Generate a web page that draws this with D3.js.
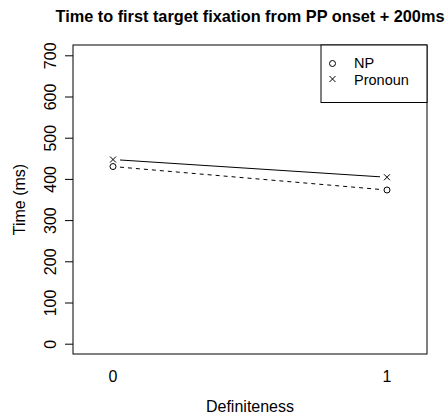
<!DOCTYPE html>
<html><head><meta charset="utf-8">
<script src="https://cdn.jsdelivr.net/npm/d3@7"></script>
<style>body{margin:0;background:#fff}svg{display:block}text{font-family:"Liberation Sans",Arial,sans-serif;fill:#000}</style>
</head><body><svg id="c" width="448" height="418"></svg>
<script>
const categories = ["0", "1"];
const seriesNames = ["NP", "Pronoun"];
const npValues = [430, 373];
const pronounValues = [447, 404];
const yTicks = [0, 100, 200, 300, 400, 500, 600, 700];
const title = "Time to first target fixation from PP onset + 200ms";

const svg = d3.select("#c");
const L = 73, R = 427, T = 45, B = 354;
const FS = 16;
const x = d3.scaleLinear().domain([-0.146, 1.146]).range([L, R]);
const y = d3.scaleLinear().domain([-25, 725]).range([B, T]);

svg.append("text").attr("x", 250).attr("y", 21.5).attr("text-anchor", "middle")
  .attr("font-weight", "bold").attr("font-size", 16.3).text(title);

svg.append("rect").attr("x", L).attr("y", T).attr("width", R - L).attr("height", B - T)
  .attr("fill", "none").attr("stroke", "#000").attr("stroke-width", 1);

// y axis
const yAxis = d3.axisLeft(y).tickValues(yTicks).tickSize(8).tickFormat(d3.format("d"));
const ga = svg.append("g").attr("transform", `translate(${L},0)`).call(yAxis);
ga.select(".domain").remove();
ga.selectAll(".tick line").attr("stroke", "#000");
ga.selectAll(".tick text").attr("font-size", FS).attr("text-anchor", "middle")
  .attr("x", null).attr("dy", null)
  .attr("transform", "translate(-17,0) rotate(-90)");

// x labels
categories.forEach((c, i) => {
  svg.append("text").attr("x", x(i)).attr("y", 382).attr("text-anchor", "middle")
    .attr("font-size", FS).text(c);
});
svg.append("text").attr("x", 250).attr("y", 411.5).attr("text-anchor", "middle")
  .attr("font-size", FS).text("Definiteness");
svg.append("text").attr("transform", "translate(25,199.5) rotate(-90)").attr("text-anchor", "middle")
  .attr("font-size", FS).text("Time (ms)");

// lines with gaps (type="b")
function drawSeries(vals, dash) {
  for (let i = 0; i < vals.length - 1; i++) {
    const x0 = x(i), y0 = y(vals[i]), x1 = x(i + 1), y1 = y(vals[i + 1]);
    const dx = x1 - x0, dy = y1 - y0, len = Math.hypot(dx, dy), g = 7;
    svg.append("line")
      .attr("x1", x0 + dx * g / len).attr("y1", y0 + dy * g / len)
      .attr("x2", x1 - dx * g / len).attr("y2", y1 - dy * g / len)
      .attr("stroke", "#000").attr("stroke-width", 1)
      .attr("stroke-dasharray", dash);
  }
}
drawSeries(npValues, "4,4");
drawSeries(pronounValues, null);

function circle(cx, cy) {
  svg.append("circle").attr("cx", cx).attr("cy", cy).attr("r", 3)
    .attr("fill", "none").attr("stroke", "#000").attr("stroke-width", 1);
}
function cross(cx, cy) {
  const s = 3;
  svg.append("path").attr("d", `M${cx-s},${cy-s}L${cx+s},${cy+s}M${cx-s},${cy+s}L${cx+s},${cy-s}`)
    .attr("stroke", "#000").attr("stroke-width", 1).attr("fill", "none");
}
npValues.forEach((v, i) => circle(x(i), y(v)));
pronounValues.forEach((v, i) => cross(x(i), y(v)));

// legend
svg.append("rect").attr("x", 321).attr("y", T).attr("width", R - 321).attr("height", 57.5)
  .attr("fill", "#fff").attr("stroke", "#000").attr("stroke-width", 1);
circle(332.5, 63.5);
cross(332.5, 79);
svg.append("text").attr("x", 354).attr("y", 68).attr("font-size", 14.5).text(seriesNames[0]);
svg.append("text").attr("x", 354).attr("y", 84.5).attr("font-size", 14.5).text(seriesNames[1]);
</script></body></html>
